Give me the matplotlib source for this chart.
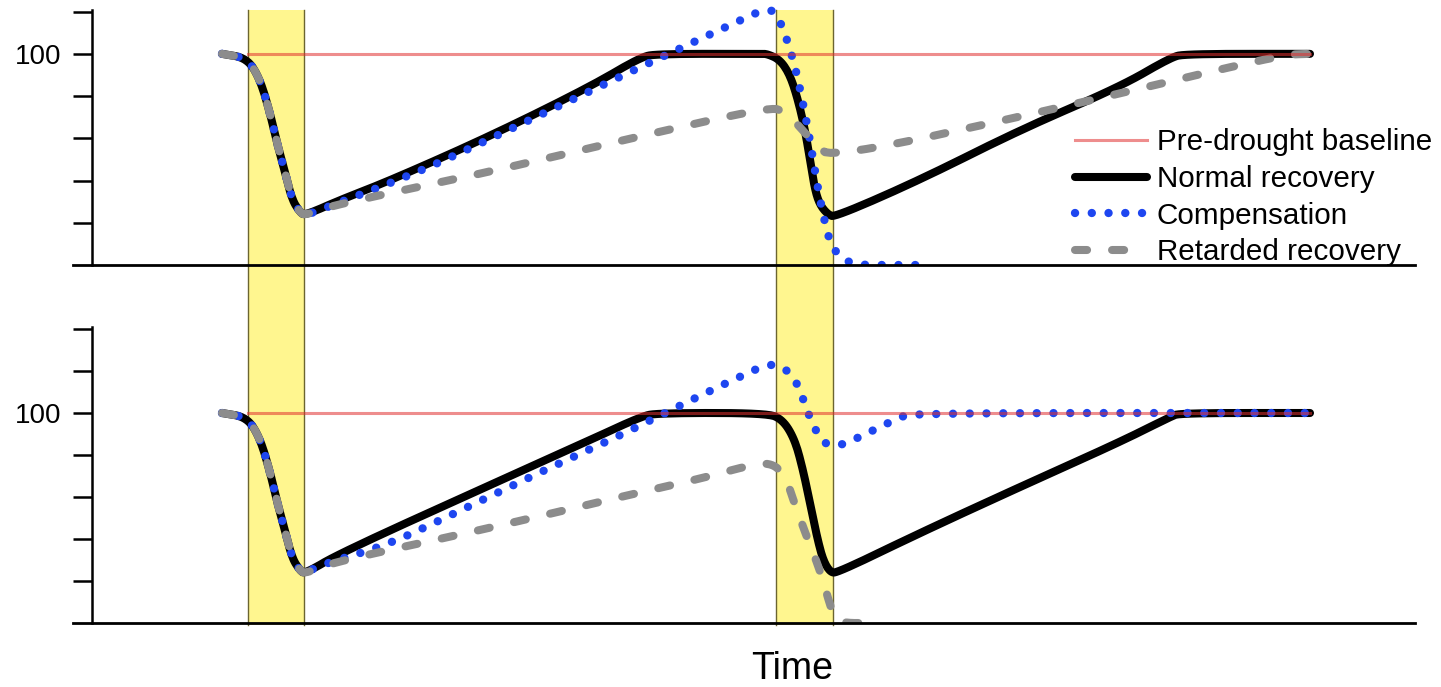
import numpy as np
import matplotlib.pyplot as plt
from matplotlib.lines import Line2D
from matplotlib.patches import Rectangle
from matplotlib.transforms import blended_transform_factory

plt.rcParams["font.family"] = ["Liberation Sans", "DejaVu Sans"]

# time in arbitrary units, value in % of pre-drought level
drought_bands = [(15.6, 21.2), (68.4, 74.1)]

baseline_t = [15.6, 121.8]
baseline_v = [100, 100]

# first drought: identical decline for every scenario
drop1_t = [13.0, 15.5, 16.8, 17.8, 18.6, 19.3, 20.0, 20.8, 21.3]
drop1_v = [100, 98, 88, 72, 56, 44, 31, 25, 23.5]

# upper panel
top_normal_t = [24.8, 29.8, 39.8, 49.8, 54.8, 56.5, 66.8, 67.5, 68.8, 69.8, 70.6, 71.3,
                71.8, 72.3, 72.8, 73.6, 74.3, 82.8, 92.8, 102.8, 107.8, 109.3, 121.8]
top_normal_v = [30.8, 40, 61, 84.4, 98.3, 100, 100, 100, 97.2, 90, 78.2, 64,
                49.8, 35.5, 28.4, 23.9, 22.7, 40.3, 64, 84.4, 98.1, 100, 100]
top_comp_t = [22.8, 32.5, 41.1, 49.6, 58.5, 64.5, 67.8, 68.8, 70.0, 70.8, 71.8, 72.6,
              73.6, 74.3, 75.8, 76.8, 82.8]
top_comp_v = [26.1, 43.6, 62.6, 82, 101.9, 115.2, 122.3, 116.1, 99.5, 83.9, 59.2, 35.5,
              13.3, 6.2, 0.9, 0, 0]
top_retard_t = [24.1, 39.8, 54.5, 67.8, 69.3, 70.8, 72.3, 74.1, 96.8, 118.8, 121.8]
top_retard_v = [28.4, 44.1, 60.7, 74.9, 72.5, 65.4, 56.9, 50.7, 74.4, 99.5, 100]

# lower panel
bot_normal_t = [24.8, 39.8, 49.8, 54.8, 56.5, 67.5, 69.1, 70.3, 71.1, 71.8, 72.5, 73.1,
                73.8, 74.5, 82.8, 92.8, 102.8, 107.8, 108.8, 121.8]
bot_normal_v = [33.3, 65.7, 87.1, 98.1, 100, 100, 96.7, 87.1, 72.9, 57.1, 41, 30,
                24.3, 23.8, 42.9, 64.8, 86.2, 98.1, 100, 100]
bot_comp_t = [22.8, 29.5, 35.5, 41.1, 46.8, 52.5, 58.5, 64.5, 67.8, 69.3, 70.5, 71.6,
              72.3, 73.1, 74.6, 77.6, 80.6, 82.1, 121.8]
bot_comp_v = [27.6, 37.1, 50.5, 63.3, 76.2, 88.6, 102.9, 116.7, 123.8, 121.4, 114.8, 100,
              92.4, 85.7, 83.8, 90.5, 97.6, 100, 100]
bot_retard_t = [24.1, 39.8, 54.5, 61.5, 65.1, 67.8, 69.3, 70.3, 71.6, 72.8, 74.0, 74.6, 78.3]
bot_retard_v = [29, 45.2, 61.9, 69.5, 74.3, 76.7, 70.5, 56.2, 39.5, 25.2, 5.2, 0, 0]

labels = ["Pre-drought baseline", "Normal recovery", "Compensation", "Retarded recovery"]

styles = {
    "baseline": dict(color="#e0302f", lw=2.2, alpha=0.55, zorder=5),
    "normal": dict(color="black", lw=5.8, zorder=2, solid_joinstyle="round",
                   solid_capstyle="round"),
    "comp": dict(color="#1e46f0", lw=6.0, linestyle=(0, (0.01, 2.0)),
                 dash_capstyle="round", zorder=3),
    "retard": dict(color="#8c8c8c", lw=5.8, linestyle=(0, (1.5, 3.1)),
                   dash_capstyle="round", zorder=4),
}


def rounded(t, v, passes=3):
    # corner cutting so the hand-drawn curves bend smoothly
    pts = np.column_stack([t, v]).astype(float)
    for _ in range(passes):
        q = 0.75 * pts[:-1] + 0.25 * pts[1:]
        r = 0.25 * pts[:-1] + 0.75 * pts[1:]
        mid = np.empty((2 * len(q), 2))
        mid[0::2], mid[1::2] = q, r
        pts = np.vstack([pts[:1], mid, pts[-1:]])
    return pts[:, 0], pts[:, 1]


W, H = 1441, 687
fig = plt.figure(figsize=(W / 100, H / 100), dpi=100)
left, right = 73 / W, 1415 / W
ax_top = fig.add_axes([left, 1 - 265 / H, right - left, 265 / H])
ax_bot = fig.add_axes([left, 1 - 623 / H, right - left, (623 - 318.5) / H])

panels = [
    (ax_top, (0, 125.5), 121, [20, 40, 60, 80, 100, 120],
     top_normal_t, top_normal_v, top_comp_t, top_comp_v, top_retard_t, top_retard_v),
    (ax_bot, (0, 145), 141, [20, 40, 60, 80, 100, 120, 140],
     bot_normal_t, bot_normal_v, bot_comp_t, bot_comp_v, bot_retard_t, bot_retard_v),
]

for ax, ylim, ytop, yticks, nt, nv, ct, cv, rt, rv in panels:
    ax.set_facecolor("none")
    ax.plot(baseline_t, baseline_v, **styles["baseline"])
    ax.plot(*rounded(drop1_t + nt, drop1_v + nv), **styles["normal"])
    ax.plot(*rounded(drop1_t + ct, drop1_v + cv), **styles["comp"])
    ax.plot(*rounded(drop1_t + rt, drop1_v + rv), **styles["retard"])
    ax.set_xlim(-1.9, 132.3)
    ax.set_ylim(*ylim)
    ax.spines["top"].set_visible(False)
    ax.spines["right"].set_visible(False)
    ax.spines["left"].set_position(("data", 0))
    ax.spines["left"].set_bounds(0, ytop)
    ax.spines["left"].set_linewidth(1.8)
    ax.spines["bottom"].set_linewidth(2.0)
    ax.spines["bottom"].set_zorder(6)
    ax.set_xticks([])
    ax.set_yticks(yticks)
    ax.set_yticklabels(["100" if v == 100 else "" for v in yticks])
    ax.tick_params(axis="y", length=13.7, width=1.8, pad=8, labelsize=20)

# drought periods span both panels
trans = blended_transform_factory(ax_top.transData, fig.transFigure)
y0, y1 = 1 - 625 / H, 1 - 10 / H
for a, b in drought_bands:
    fig.add_artist(Rectangle((a, y0), b - a, y1 - y0, transform=trans,
                             facecolor="#fff68f", edgecolor="none", zorder=-1))
    for x in (a, b):
        fig.add_artist(Line2D([x, x], [y0, y1], transform=trans, color="#6b6530",
                              lw=1.0, zorder=-0.5))

handles = [Line2D([], [], **styles[k]) for k in ["baseline", "normal", "comp", "retard"]]
ax_top.legend(handles, labels, loc="upper left", bbox_to_anchor=(1075 / W, 1 - 128.5 / H),
              bbox_transform=fig.transFigure, frameon=False, fontsize=21.3,
              handlelength=2.43, handletextpad=0.34, labelspacing=0.29,
              borderpad=0, borderaxespad=0)

fig.text(792 / W, 1 - 669 / H, "Time", ha="center", va="center", fontsize=27)

fig.savefig("out.png", dpi=100)
